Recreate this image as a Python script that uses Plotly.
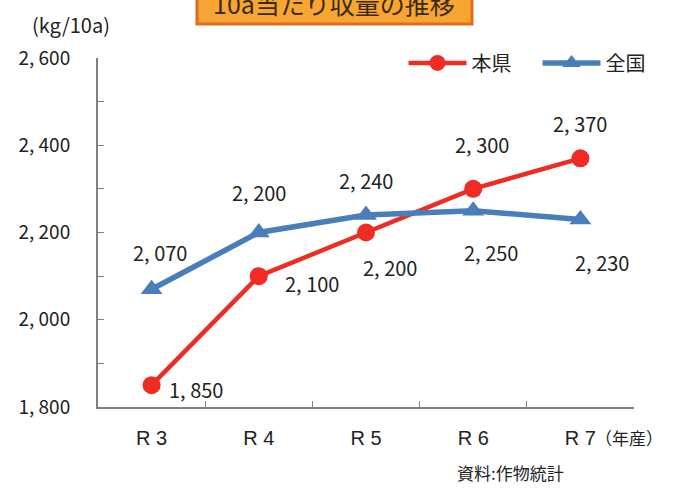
import plotly.graph_objects as go

# ---- data ----
categories = ["R3", "R4", "R5", "R6", "R7"]
category_labels = ["R 3", "R 4", "R 5", "R 6", "R 7"]
honken = [1850, 2100, 2200, 2300, 2370]
zenkoku = [2070, 2200, 2240, 2250, 2230]
y_tickvals = [1800, 1900, 2000, 2100, 2200, 2300, 2400, 2500, 2600]
y_ticktext = ["1, 800", "", "2, 000", "", "2, 200", "", "2, 400", "", "2, 600"]

# ---- label offsets (pixels) ----
honken_offsets = [(44, -4), (53, -7), (24, -35), (9, 44), (0, 35)]
zenkoku_offsets = [(8, 37), (0, 40), (0, 35), (18, -42), (22, -43)]

RED = "#ee2c24"
BLUE = "#4a7ebb"
FONT = "Noto Sans CJK JP"
TXT = "#222222"


def fmt(v):
    return f"{v:,}".replace(",", ", ")


fig = go.Figure()
fig.add_trace(go.Scatter(
    x=categories, y=honken, name="本県", mode="lines+markers",
    line=dict(color=RED, width=4.5),
    marker=dict(symbol="circle", size=18, color=RED),
    cliponaxis=False,
))
fig.add_trace(go.Scatter(
    x=categories, y=zenkoku, name="全国", mode="lines+markers",
    line=dict(color=BLUE, width=5.5),
    marker=dict(symbol="triangle-up", size=19, color=BLUE),
    cliponaxis=False,
))

annotations = []
for c, v, (dx, dy) in zip(categories, honken, honken_offsets):
    annotations.append(dict(x=c, y=v, xref="x", yref="y", text=fmt(v), showarrow=False,
                            xshift=dx, yshift=dy, font=dict(family=FONT, size=20, color=TXT)))
for c, v, (dx, dy) in zip(categories, zenkoku, zenkoku_offsets):
    annotations.append(dict(x=c, y=v, xref="x", yref="y", text=fmt(v), showarrow=False,
                            xshift=dx, yshift=dy, font=dict(family=FONT, size=20, color=TXT)))

# unit, title, notes
annotations += [
    dict(x=-0.05, y=1.095, xref="paper", yref="paper", text="(kg/10a)", showarrow=False,
         font=dict(family=FONT, size=20, color=TXT), xanchor="center", yanchor="middle"),
    dict(x=0.4403, y=1.157, xref="paper", yref="paper", text="10a当たり収量の推移", showarrow=False,
         font=dict(family=FONT, size=25, color="#3b2a10"), xanchor="center", yanchor="middle"),
    dict(x=0.990, y=-0.086, xref="paper", yref="paper", text="（年産）", showarrow=False,
         font=dict(family=FONT, size=17, color=TXT), xanchor="center", yanchor="middle"),
    dict(x=0.770, y=-0.189, xref="paper", yref="paper", text="資料:作物統計", showarrow=False,
         font=dict(family=FONT, size=17, color=TXT), xanchor="center", yanchor="middle"),
]

shapes = [
    dict(type="rect", xref="paper", yref="paper", x0=0.1847, x1=0.6978, y0=1.0974, y1=1.25,
         fillcolor="#f6a631", line=dict(color="#e06c22", width=3), layer="above"),
]

fig.update_layout(
    width=681, height=488,
    margin=dict(l=98, r=47, t=58, b=81, autoexpand=False),
    paper_bgcolor="white", plot_bgcolor="white",
    font=dict(family=FONT, color=TXT),
    showlegend=True,
    legend=dict(orientation="h", x=0.57, y=0.986, xanchor="left", yanchor="middle",
                font=dict(family=FONT, size=20, color=TXT), itemwidth=58,
                entrywidth=61, entrywidthmode="pixels",
                bgcolor="rgba(0,0,0,0)", tracegroupgap=0),
    xaxis=dict(type="category", range=[-0.5, 4.5], tickmode="array", tickvals=categories,
               ticktext=category_labels, tickson="boundaries", ticks="inside", ticklen=6,
               tickcolor="#808080", showline=True, linecolor="#808080", linewidth=2,
               showgrid=False, zeroline=False, ticklabelstandoff=12, automargin=False,
               tickfont=dict(family="Liberation Sans", size=20, color=TXT)),
    yaxis=dict(range=[1800, 2600], tickmode="array", tickvals=y_tickvals, ticktext=y_ticktext,
               ticks="inside", ticklen=6, tickcolor="#808080", showline=True,
               linecolor="#808080", linewidth=2, showgrid=False, zeroline=False,
               ticklabelstandoff=22, automargin=False,
               tickfont=dict(family=FONT, size=19, color=TXT)),
    annotations=annotations,
    shapes=shapes,
)

fig.write_html("out.html", config={"displayModeBar": False},
               post_script="document.body.style.margin='0px';")
